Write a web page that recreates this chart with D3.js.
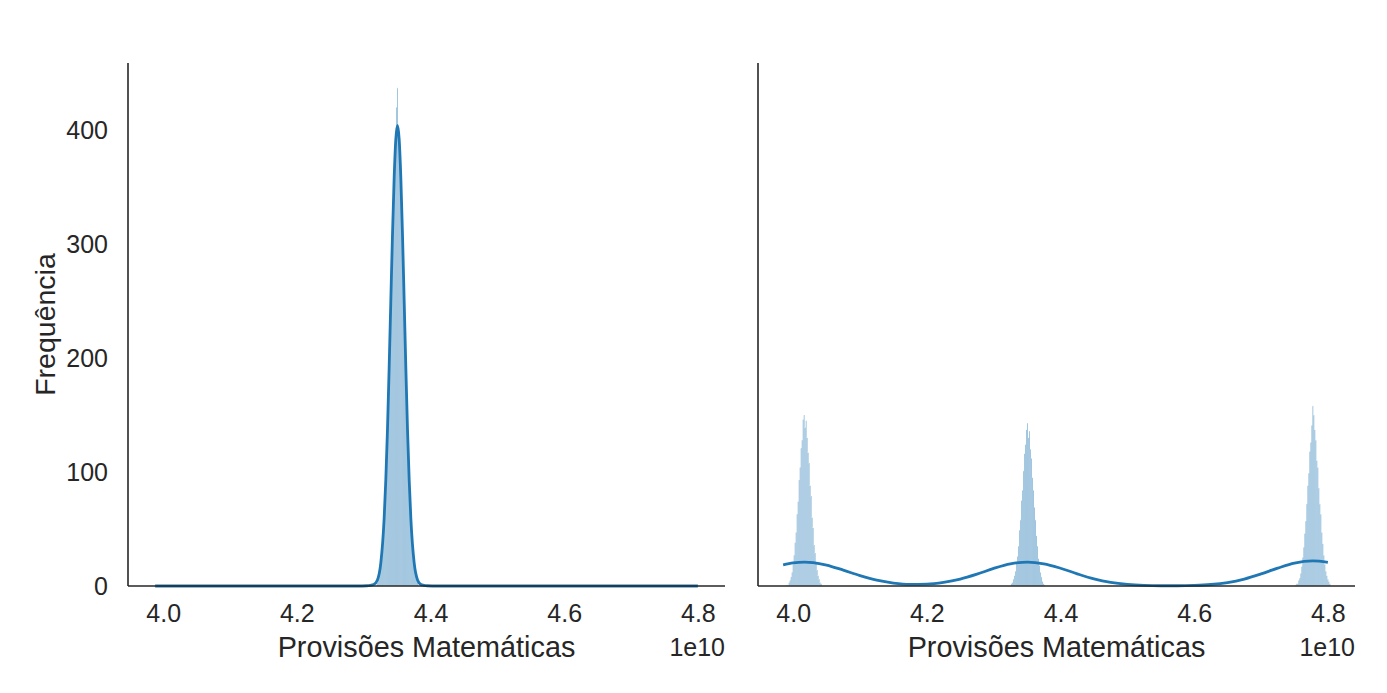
<!DOCTYPE html>
<html>
<head>
<meta charset="utf-8">
<script src="https://cdn.jsdelivr.net/npm/d3@7"></script>
<style>
  html, body { margin: 0; padding: 0; background: #fff; }
  svg { display: block; }
  text { font-family: "Liberation Sans", Arial, Helvetica, sans-serif; fill: #262626; }
</style>
</head>
<body>
<svg id="chart" width="1387" height="693"></svg>
<script>
// ---------------- DATA ----------------
const xTicks = [4.0e10, 4.2e10, 4.4e10, 4.6e10, 4.8e10];
const xTickLabels = ["4.0", "4.2", "4.4", "4.6", "4.8"];
const yTicks = [0, 100, 200, 300, 400];
const yTickLabels = ["0", "100", "200", "300", "400"];
const binWidth = 1.5e7;

// left panel: one cluster
const leftBinCenter = 4.3506e10;   // centre of the middle bin
const leftCounts = [3,6,11,16,24,37,46,68,82,112,134,171,198,242,270,312,336,371,384,420,437,
                    398,392,362,344,305,279,233,206,164,140,106,88,62,50,33,26,17,12,7,4];
const leftKdeX = [3.988e10,4.29e10,4.305e10,4.31e10,4.315e10,4.3206e10,4.3256e10,4.3306e10,4.3331e10,4.3356e10,
                  4.3381e10,4.3406e10,4.3431e10,4.3456e10,4.3481e10,4.3506e10,4.3531e10,4.3556e10,4.3581e10,
                  4.3606e10,4.3631e10,4.3656e10,4.3681e10,4.3706e10,4.3756e10,4.3806e10,4.3856e10,4.39e10,4.395e10,4.41e10,4.80e10];
const leftKdeY = [0,0,0.2,0.6,1.3,5.3,20,59,93,137,191,250,308,358,392,404,392,358,308,250,191,137,93,59,20,5.3,1.3,0.6,0.2,0,0];

// right panel: three clusters
const rightBinCenters = [4.0165e10, 4.3506e10, 4.7775e10];
const rightCounts1 = [1,0,3,5,8,12,19,27,38,47,63,74,93,104,121,128,146,150,139,145,130,117,108,88,79,60,51,36,29,21,14,9,6,3,2];
const rightCounts2 = [0,2,3,6,9,13,20,26,35,49,58,75,84,101,116,124,137,143,130,136,120,112,95,84,69,58,44,35,24,18,12,8,4,2,1];
const rightCounts3 = [1,2,2,5,7,11,17,25,34,46,57,72,88,99,118,126,141,158,150,137,128,110,104,86,72,63,47,37,27,19,13,9,6,4,2];
const rightKdeX = [3.985e10,4.0e10,4.017e10,4.03e10,4.05e10,4.075e10,4.1e10,4.125e10,4.15e10,4.175e10,4.2e10,4.225e10,
                   4.25e10,4.275e10,4.3e10,4.325e10,4.3506e10,4.375e10,4.4e10,4.425e10,4.45e10,4.475e10,4.5e10,4.525e10,
                   4.55e10,4.575e10,4.6e10,4.625e10,4.65e10,4.675e10,4.7e10,4.725e10,4.75e10,4.7775e10,4.8e10];
const rightKdeY = [18.5,20.3,21.0,20.6,18.4,13.9,9.1,5.1,2.6,1.5,1.7,3.2,6.1,10.4,15.4,19.4,21.0,19.5,15.6,10.7,6.3,
                   3.2,1.4,0.5,0.2,0.2,0.5,1.3,3.0,6.1,10.6,15.7,20.1,22.0,20.7];

const xLabel = "Provisões Matemáticas";
const yLabel = "Frequência";
const offsetLabel = "1e10";

// ---------------- LAYOUT ----------------
const svg = d3.select("#chart");
const plotTop = 63, plotBottom = 586;
const panels = [
  {x0: 128, x1: 725, showY: true},
  {x0: 758, x1: 1355, showY: false}
];
const blue = "#1f77b4";
const axisColor = "#262626";

// x domain: kde extent + 5% margin (matplotlib style)
const xmin = d3.min(leftKdeX), xmax = d3.max(leftKdeX);
const pad = (xmax - xmin) * 0.05;
const xDomain = [xmin - pad, xmax + pad];
const yMax = d3.max(leftCounts) * 1.05;

function binsFrom(center, counts) {
  const mid = (counts.length - 1) / 2;
  return counts.map((c, i) => ({x0: center + (i - mid) * binWidth - binWidth / 2, x1: center + (i - mid) * binWidth + binWidth / 2, c}));
}

const panelData = [
  {bins: binsFrom(leftBinCenter, leftCounts), kx: leftKdeX, ky: leftKdeY},
  {bins: [].concat(binsFrom(rightBinCenters[0], rightCounts1), binsFrom(rightBinCenters[1], rightCounts2), binsFrom(rightBinCenters[2], rightCounts3)),
   kx: rightKdeX, ky: rightKdeY}
];

panels.forEach((p, pi) => {
  const x = d3.scaleLinear().domain(xDomain).range([p.x0, p.x1]);
  const y = d3.scaleLinear().domain([0, yMax]).range([plotBottom, plotTop]);
  const g = svg.append("g");
  const d = panelData[pi];

  // bars
  g.append("g").selectAll("rect").data(d.bins).join("rect")
    .attr("x", b => x(b.x0))
    .attr("width", b => Math.max(0.1, x(b.x1) - x(b.x0)))
    .attr("y", b => y(b.c))
    .attr("height", b => y(0) - y(b.c))
    .attr("fill", blue)
    .attr("fill-opacity", 0.45)
    .attr("stroke", "#ffffff")
    .attr("stroke-opacity", 0.35)
    .attr("stroke-width", 0.25);

  // kde
  const pts = d.kx.map((v, i) => [v, d.ky[i]]);
  g.append("path")
    .datum(pts)
    .attr("d", d3.line().x(q => x(q[0])).y(q => y(q[1])).curve(d3.curveMonotoneX))
    .attr("fill", "none")
    .attr("stroke", blue)
    .attr("stroke-width", 2.8)
    .attr("stroke-linejoin", "round");

  // x axis
  const xa = g.append("g").attr("transform", `translate(0,${plotBottom})`)
    .call(d3.axisBottom(x).tickValues(xTicks).tickFormat((t, i) => xTickLabels[i]).tickSize(0).tickPadding(18));
  xa.select(".domain").attr("stroke", axisColor).attr("stroke-width", 1.6).attr("d", `M${p.x0},0H${p.x1}`);
  xa.selectAll("text").style("font-size", "25px").attr("fill", axisColor)
    .attr("font-family", '"Liberation Sans", Arial, sans-serif');

  // y axis
  const ya = g.append("g").attr("transform", `translate(${p.x0},0)`)
    .call(d3.axisLeft(y).tickValues(yTicks).tickFormat((t, i) => p.showY ? yTickLabels[i] : "").tickSize(0).tickPadding(20));
  ya.select(".domain").attr("stroke", axisColor).attr("stroke-width", 1.6).attr("d", `M0,${plotTop}V${plotBottom}`);
  ya.selectAll("text").style("font-size", "25px").attr("fill", axisColor)
    .attr("font-family", '"Liberation Sans", Arial, sans-serif');
  ya.selectAll(".tick line").remove();
  xa.selectAll(".tick line").remove();

  // x label
  g.append("text")
    .attr("x", (p.x0 + p.x1) / 2)
    .attr("y", 657)
    .attr("text-anchor", "middle")
    .style("font-size", "28.8px")
    .text(xLabel);

  // offset text
  g.append("text")
    .attr("x", p.x1)
    .attr("y", 656)
    .attr("text-anchor", "end")
    .style("font-size", "25px")
    .text(offsetLabel);

  if (p.showY) {
    g.append("text")
      .attr("transform", `translate(55,${(plotTop + plotBottom) / 2}) rotate(-90)`)
      .attr("text-anchor", "middle")
      .style("font-size", "28.5px")
      .text(yLabel);
  }
});
</script>
</body>
</html>
